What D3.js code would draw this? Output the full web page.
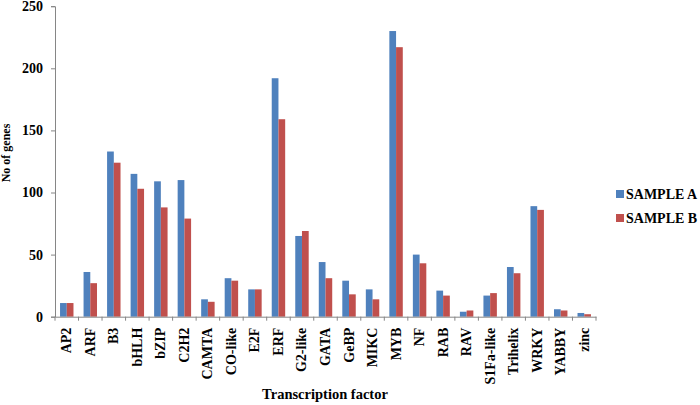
<!DOCTYPE html>
<html>
<head>
<meta charset="utf-8">
<script src="https://cdn.jsdelivr.net/npm/d3@7"></script>
<style>
  body { margin: 0; background: #fff; }
  svg text { font-family: "Liberation Serif", "Times New Roman", serif; font-weight: bold; fill: #000; }
</style>
</head>
<body>
<svg width="700" height="405"></svg>
<script>
/* data */
var factors = ["AP2", "ARF", "B3", "bHLH", "bZIP", "C2H2", "CAMTA", "CO-like", "E2F", "ERF",
  "G2-like", "GATA", "GeBP", "MIKC", "MYB", "NF", "RAB", "RAV", "S1Fa-like", "Trihelix",
  "WRKY", "YABBY", "zinc"]
var sampleA = [11, 36, 133, 115, 109, 110, 14, 31, 22, 192, 65, 44, 29, 22, 230, 50, 21, 4, 17, 40, 89, 6, 3]
var sampleB = [11, 27, 124, 103, 88, 79, 12, 29, 22, 159, 69, 31, 18, 14, 217, 43, 17, 5, 19, 35, 86, 5, 2]
var seriesNames = ["SAMPLE A", "SAMPLE B"]
var seriesColors = ["#4F81BD", "#C0504D"]
var yTicks = [0, 50, 100, 150, 200, 250]

/* layout */
var plot_left = 55
var plot_right = 596
var plot_top = 6.2
var plot_bottom = 316.7

var svg = d3.select("svg")

var x = d3.scaleBand()
  .domain(factors)
  .range([plot_left, plot_right])
  .paddingInner(0)
  .paddingOuter(0)

var barW = x.bandwidth() / 3.5

var y = d3.scaleLinear()
  .domain([0, 250])
  .range([plot_bottom, plot_top])

/* bars */
var series = [sampleA, sampleB]
series.forEach(function(vals, s) {
  svg.append("g")
    .selectAll("rect")
    .data(vals)
    .enter()
    .append("rect")
    .attr("x", function(d, i) { return x(factors[i]) + (x.bandwidth() - 2 * barW) / 2 + s * barW })
    .attr("y", function(d) { return y(d) })
    .attr("width", barW)
    .attr("height", function(d) { return plot_bottom - y(d) })
    .attr("fill", seriesColors[s])
})

/* y axis */
var yAxis = svg.append("g")
  .attr("transform", "translate(" + plot_left + ",0)")
  .call(d3.axisLeft(y).tickValues(yTicks).tickSize(4).tickPadding(8))
yAxis.select(".domain").attr("stroke", "#868686")
yAxis.selectAll(".tick line").attr("stroke", "#868686")
yAxis.selectAll("text").style("font-size", "14px").attr("fill", "#000")

/* x axis */
var xAxis = svg.append("g")
  .attr("transform", "translate(0," + plot_bottom + ")")
  .call(d3.axisBottom(x).tickSize(0).tickFormat(""))
xAxis.select(".domain").attr("stroke", "#868686")

// tick marks sit between categories
svg.append("g")
  .selectAll("line")
  .data(factors.concat([null]))
  .enter()
  .append("line")
  .attr("x1", function(d, i) { return plot_left + i * x.step() })
  .attr("x2", function(d, i) { return plot_left + i * x.step() })
  .attr("y1", plot_bottom)
  .attr("y2", plot_bottom + 4)
  .attr("stroke", "#868686")

svg.append("g")
  .selectAll("text")
  .data(factors)
  .enter()
  .append("text")
  .text(function(d) { return d })
  .attr("text-anchor", "end")
  .attr("dominant-baseline", "central")
  .style("font-size", "14px")
  .attr("transform", function(d) {
    return "translate(" + (x(d) + x.bandwidth() / 2) + "," + (plot_bottom + 11) + ") rotate(-90)"
  })

/* axis titles */
svg.append("text")
  .text("No of genes")
  .attr("text-anchor", "middle")
  .style("font-size", "12px")
  .attr("transform", "translate(10,153) rotate(-90)")

svg.append("text")
  .text("Transcription factor")
  .attr("x", 325)
  .attr("y", 399)
  .attr("text-anchor", "middle")
  .style("font-size", "14.5px")

/* legend */
var legend = svg.append("g")
  .selectAll("g")
  .data(seriesNames)
  .enter()
  .append("g")
  .attr("transform", function(d, i) { return "translate(616," + (190 + i * 24) + ")" })

legend.append("rect")
  .attr("width", 8)
  .attr("height", 8)
  .attr("fill", function(d, i) { return seriesColors[i] })

legend.append("text")
  .text(function(d) { return d })
  .attr("x", 10)
  .attr("y", 8.5)
  .style("font-size", "14px")
</script>
</body>
</html>
